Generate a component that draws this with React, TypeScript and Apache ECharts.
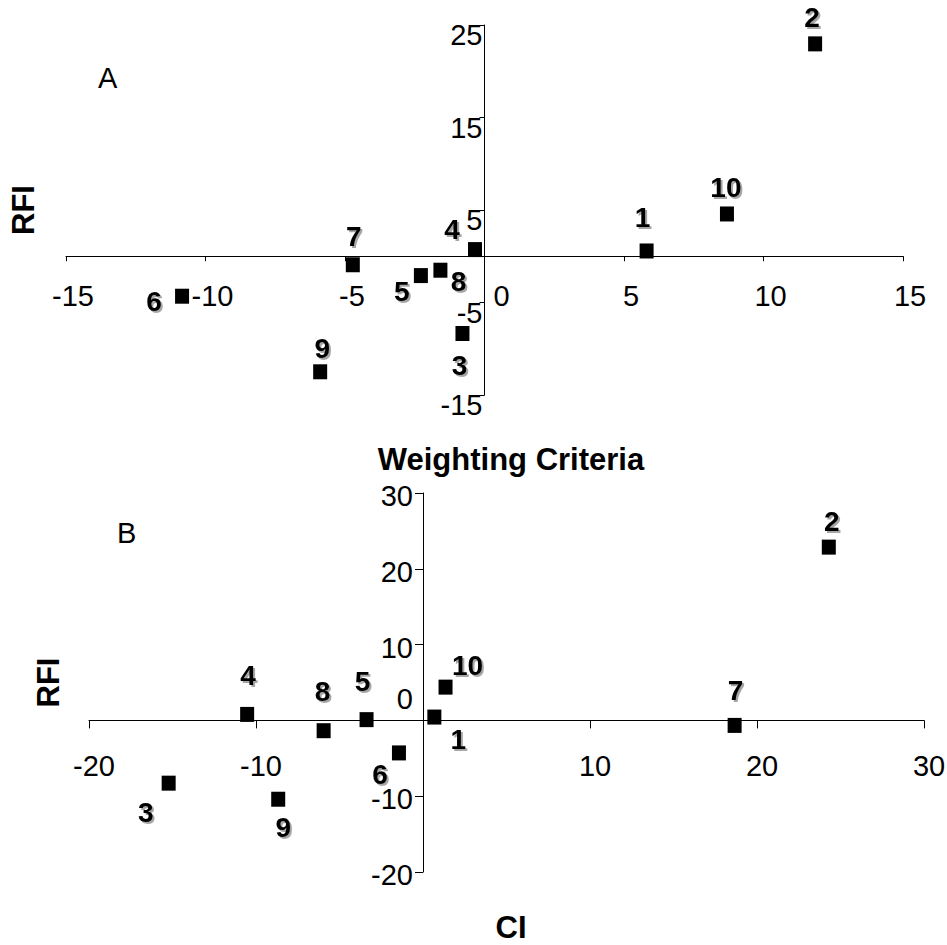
import React, { useEffect, useRef } from "react";
import * as echarts from "echarts";

// ---- Panel A: Weighting Criteria vs RFI ----
const idsA = ["1", "2", "3", "4", "5", "6", "7", "8", "9", "10"];
const xA = [5.81, 11.85, -0.79, -0.34, -2.28, -10.84, -4.72, -1.58, -5.89, 8.69];
const yA = [0.57, 22.96, -8.35, 0.72, -2.09, -4.32, -0.92, -1.51, -12.49, 4.57];
const xTicksA = [-15, -10, -5, 0, 5, 10, 15];
const yTicksA = [-15, -5, 5, 15, 25];

// ---- Panel B: CI vs RFI ----
const idsB = ["1", "2", "3", "4", "5", "6", "7", "8", "9", "10"];
const xB = [0.68, 24.3, -15.23, -10.53, -3.38, -1.44, 18.66, -5.95, -8.67, 1.35];
const yB = [0.44, 22.86, -8.28, 0.79, 0.1, -4.29, -0.66, -1.36, -10.4, 4.39];
const xTicksB = [-20, -10, 0, 10, 20, 30];
const yTicksB = [-20, -10, 0, 10, 20, 30];

// label placement (layout only, pixels relative to each marker)
const labelOffsetA = [[-4, -33], [-3, -26], [-3, 32], [-23, -20], [-19, 16], [-28, 5], [1, -28], [18, 11], [2, -23], [-1, -26]];
const labelOffsetB = [[24, 22], [3, -26], [-23, 29], [1, -39], [-4, -38], [-19, 22], [1, -35], [-1, -39], [5, 28], [22, -22]];

const FONT = "'Liberation Sans', Arial, sans-serif";

// grid boxes (layout)
const GA = { left: 66, top: 25, width: 837, height: 370 };
const GB = { left: 89, top: 493, width: 835, height: 379 };

function buildData(ids: string[], xs: number[], ys: number[], offs: number[][]) {
  return ids.map((id, i) => ({
    name: id,
    value: [xs[i], ys[i]],
    label: { offset: offs[i] },
  }));
}

// distance (px) from grid edge to where the value 0 falls
function zeroFrac(min: number, max: number) {
  return (0 - min) / (max - min);
}

const pointLabel = {
  show: true,
  position: "inside",
  formatter: (p: any) => p.name,
  fontFamily: FONT,
  fontWeight: "bold",
  fontSize: 28,
  color: "#000",
  textShadowColor: "rgba(0,0,0,0.35)",
  textShadowOffsetX: 2,
  textShadowOffsetY: 2,
  textShadowBlur: 1,
};

export default function App() {
  const ref = useRef<HTMLDivElement>(null);
  useEffect(() => {
    if (!ref.current) return;
    const chart = echarts.init(ref.current, undefined, { renderer: "svg" });
    const axisLine = { show: true, onZero: false, lineStyle: { color: "#000", width: 1 } };
    const nameStyle = { fontFamily: FONT, fontWeight: "bold", fontSize: 31, color: "#000" };

    const xMinA = xTicksA[0], xMaxA = xTicksA[xTicksA.length - 1];
    const yMinA = yTicksA[0], yMaxA = yTicksA[yTicksA.length - 1];
    const xMinB = xTicksB[0], xMaxB = xTicksB[xTicksB.length - 1];
    const yMinB = yTicksB[0], yMaxB = yTicksB[yTicksB.length - 1];

    // axes crossing at zero: shift each axis inward from its grid edge
    const xOffA = -GA.height * zeroFrac(yMinA, yMaxA);
    const yOffA = -GA.width * zeroFrac(xMinA, xMaxA);
    const xOffB = -GB.height * zeroFrac(yMinB, yMaxB);
    const yOffB = -GB.width * zeroFrac(xMinB, xMaxB);

    chart.setOption({
      animation: false,
      backgroundColor: "#fff",
      title: [
        { text: "A", left: 98, top: 63, padding: 0, textStyle: { fontFamily: FONT, fontWeight: "normal", fontSize: 29, color: "#000" } },
        { text: "B", left: 117, top: 518, padding: 0, textStyle: { fontFamily: FONT, fontWeight: "normal", fontSize: 29, color: "#000" } },
      ],
      grid: [
        { ...GA, containLabel: false, outerBoundsMode: "none" },
        { ...GB, containLabel: false, outerBoundsMode: "none" },
      ],
      xAxis: [
        {
          gridIndex: 0,
          type: "value",
          position: "bottom",
          offset: xOffA,
          min: xMinA,
          max: xMaxA,
          interval: 5,
          name: "Weighting Criteria",
          nameLocation: "middle",
          nameGap: 188,
          nameTextStyle: { ...nameStyle, padding: [0, 0, 0, 53] },
          axisLine,
          axisTick: { show: true, length: 5, lineStyle: { color: "#000" } },
          splitLine: { show: false },
          axisLabel: {
            margin: 25,
            fontFamily: FONT,
            fontSize: 29,
            color: "#000",
            padding: [0, 0, 0, 14],
            formatter: (v: number) => (v === 0 ? "{z|0}" : String(v)),
            rich: { z: { fontFamily: FONT, fontSize: 29, color: "#000", padding: [0, 0, 0, 20] } },
          },
        },
        {
          gridIndex: 1,
          type: "value",
          position: "bottom",
          offset: xOffB,
          min: xMinB,
          max: xMaxB,
          interval: 10,
          name: "CI",
          nameLocation: "middle",
          nameGap: 192,
          nameTextStyle: { ...nameStyle, padding: [0, 0, 0, 9] },
          axisLine,
          axisTick: { show: true, length: 8, lineStyle: { color: "#000" } },
          splitLine: { show: false },
          axisLabel: {
            margin: 31,
            fontFamily: FONT,
            fontSize: 29,
            color: "#000",
            padding: [0, 0, 0, 10],
            formatter: (v: number) => (v === 0 ? "" : String(v)),
          },
        },
      ],
      yAxis: [
        {
          gridIndex: 0,
          type: "value",
          position: "left",
          offset: yOffA,
          min: yMinA,
          max: yMaxA,
          name: "RFI",
          nameLocation: "middle",
          nameRotate: 90,
          nameGap: 446,
          nameTextStyle: nameStyle,
          axisLine,
          axisTick: { show: true, length: 5, customValues: yTicksA, lineStyle: { color: "#000" } },
          splitLine: { show: false },
          axisLabel: {
            customValues: yTicksA,
            margin: 2,
            fontFamily: FONT,
            fontSize: 29,
            color: "#000",
            verticalAlign: "top",
            lineHeight: 20,
          },
        },
        {
          gridIndex: 1,
          type: "value",
          position: "left",
          offset: yOffB,
          min: yMinB,
          max: yMaxB,
          interval: 10,
          name: "RFI",
          nameLocation: "middle",
          nameRotate: 90,
          nameGap: 359,
          nameTextStyle: nameStyle,
          axisLine,
          axisTick: { show: true, length: 8, lineStyle: { color: "#000" } },
          splitLine: { show: false },
          axisLabel: {
            margin: 10,
            fontFamily: FONT,
            fontSize: 29,
            color: "#000",
            verticalAlign: "middle",
            padding: [6, 0, 0, 0],
            formatter: (v: number) => (v === 0 ? "{z|0}" : String(v)),
            rich: { z: { fontFamily: FONT, fontSize: 29, color: "#000", padding: [0, 0, 48, 0] } },
          },
        },
      ],
      series: [
        {
          type: "scatter",
          xAxisIndex: 0,
          yAxisIndex: 0,
          symbol: "rect",
          symbolSize: [14, 15],
          itemStyle: { color: "#000", opacity: 1 },
          label: pointLabel,
          data: buildData(idsA, xA, yA, labelOffsetA),
        },
        {
          type: "scatter",
          xAxisIndex: 1,
          yAxisIndex: 1,
          symbol: "rect",
          symbolSize: [14, 15],
          itemStyle: { color: "#000", opacity: 1 },
          label: pointLabel,
          data: buildData(idsB, xB, yB, labelOffsetB),
        },
      ],
    });
    return () => chart.dispose();
  }, []);
  return (
    <div
      ref={ref}
      style={{ position: "absolute", left: 0, top: 0, width: 947, height: 945, background: "#fff" }}
    />
  );
}
